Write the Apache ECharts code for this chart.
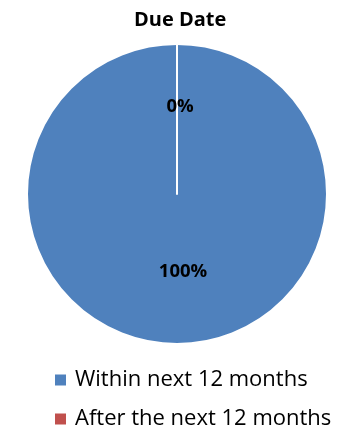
<!DOCTYPE html>
<html>
<head>
<meta charset="utf-8">
<script src="https://cdn.jsdelivr.net/npm/echarts@6/dist/echarts.min.js"></script>
<style>
  html, body { margin: 0; padding: 0; background: #fff; }
  #chart { width: 346px; height: 431px; }
</style>
</head>
<body>
<div id="chart"></div>
<script>
// Share of amounts by due date
const categories = ['Within next 12 months', 'After the next 12 months'];
const values = [100, 0];
const colors = ['#4F81BD', '#C0504D'];

const FONT = '"Open Sans", Lato, sans-serif';

const chart = echarts.init(document.getElementById('chart'), null, { renderer: 'canvas' });

chart.setOption({
  animation: false,
  title: {
    text: 'Due Date',
    left: 134,
    top: 10,
    padding: 0,
    textStyle: { fontFamily: FONT, fontWeight: 'bold', fontSize: 20, color: '#000' }
  },
  legend: {
    orient: 'vertical',
    left: 55,
    top: 369,
    padding: 0,
    itemWidth: 11,
    itemHeight: 11,
    itemGap: 17,
    icon: 'rect',
    itemStyle: { borderWidth: 0 },
    data: categories,
    textStyle: { fontFamily: FONT, fontSize: 22, lineHeight: 22, color: '#000', padding: [0, 0, 0, 4] }
  },
  series: [{
    type: 'pie',
    center: [177, 194],
    radius: [0, 150],
    startAngle: 90,
    clockwise: true,
    stillShowZeroSum: true,
    minShowLabelAngle: 0,
    avoidLabelOverlap: false,
    labelLine: { show: false },
    label: {
      show: true,
      position: 'inner',
      formatter: '{d}%',
      fontFamily: FONT,
      fontWeight: 'bold',
      fontSize: 18.5,
      color: '#000'
    },
    itemStyle: { borderColor: '#fff', borderWidth: 2 },
    emphasis: { disabled: true },
    data: categories.map((name, i) => ({
      name,
      value: values[i],
      itemStyle: { color: colors[i] },
      label: { offset: i === 0 ? [6, 0] : [3, -9] }
    }))
  }]
});
</script>
</body>
</html>
